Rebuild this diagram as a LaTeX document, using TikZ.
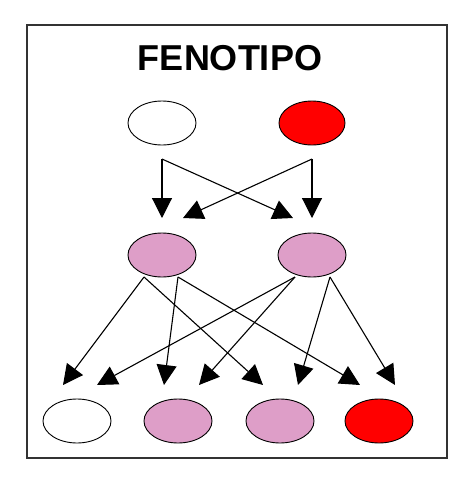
\documentclass[tikz,border=0pt]{standalone}
\usepackage{fontspec}
\setmainfont{Liberation Sans}
\usetikzlibrary{shapes.geometric,arrows.meta}
\definecolor{pinkfill}{HTML}{DE9EC8}
\definecolor{redfill}{HTML}{FF0000}
\tikzset{
  blob/.style={ellipse, draw=black, line width=0.9pt, minimum width=68pt, minimum height=44pt, inner sep=0pt},
  whiteblob/.style={blob, fill=white},
  pinkblob/.style={blob, fill=pinkfill},
  redblob/.style={blob, fill=redfill},
  link/.style={line width=1.1pt, -{Triangle[width=20pt,length=20pt]}},
}
\begin{document}
\begin{tikzpicture}[x=1pt,y=-1pt]
\useasboundingbox (0,0) rectangle (471,480);
\fill[white] (0,0) rectangle (471,480);
\draw[line width=1.5pt, draw=black!80] (27,25) rectangle (447,458);
\node[font=\bfseries\fontsize{36}{40}\selectfont, anchor=center] (title) at (230,58) {FENOTIPO};
% top row
\node[whiteblob] (p1) at (162,123) {};
\node[redblob, minimum width=66pt] (p2) at (312,123) {};
% middle row
\node[pinkblob] (m1) at (162,255) {};
\node[pinkblob] (m2) at (312,255) {};
% bottom row
\node[whiteblob] (b1) at (77,421) {};
\node[pinkblob] (b2) at (178,421) {};
\node[pinkblob] (b3) at (280,421) {};
\node[redblob] (b4) at (379,421) {};
% start points
\coordinate (s1) at (162,159);
\coordinate (s2) at (312,159);
% tips middle
\coordinate (t1) at (162,218);
\coordinate (t2) at (183,218);
\coordinate (t3) at (293,218);
\coordinate (t4) at (312,218);
\draw[link] (s1) -- (t1);
\draw[link] (s1) -- (t3);
\draw[link] (s2) -- (t4);
\draw[link] (s2) -- (t2);
% lower starts
\coordinate (u1) at (144,277);
\coordinate (u2) at (178,277);
\coordinate (u3) at (295,277);
\coordinate (u4) at (330,277);
% lower tips
\coordinate (v1) at (63,385);
\coordinate (v2) at (97,385);
\coordinate (v3) at (164,385);
\coordinate (v4) at (199,385);
\coordinate (v5) at (263,385);
\coordinate (v6) at (298,385);
\coordinate (v7) at (360,385);
\coordinate (v8) at (395,385);
\draw[link] (u1) -- (v1);
\draw[link] (u1) -- (v5);
\draw[link] (u2) -- (v3);
\draw[link] (u2) -- (v7);
\draw[link] (u3) -- (v2);
\draw[link] (u3) -- (v4);
\draw[link] (u4) -- (v6);
\draw[link] (u4) -- (v8);
\end{tikzpicture}
\end{document}
